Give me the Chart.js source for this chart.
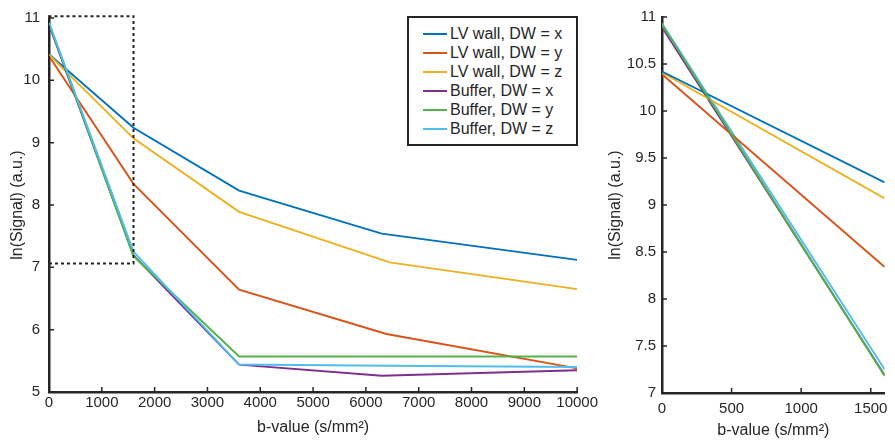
<!DOCTYPE html>
<html lang="en">
<head>
<meta charset="UTF-8">
<title>Signal decay vs b-value</title>
<script src="https://cdn.jsdelivr.net/npm/chart.js"></script>
<style>
  body { margin: 0; background: #fff; }
  #wrap { position: relative; width: 895px; height: 441px; overflow: hidden; }
  #mainChart { position: absolute; left: 0; top: 0; }
  #zoomChart { position: absolute; left: 600px; top: 0; }
  #legend {
    position: absolute; left: 407px; top: 16px;
    width: 171px; height: 130px; box-sizing: border-box;
    border: 2px solid #262626; background: #fff;
    padding: 7px 0 0 14px;
    font: 16px "Liberation Sans", Arial, sans-serif; color: #262626;
  }
  .row { display: flex; align-items: center; height: 18.9px; white-space: nowrap; }
  .swatch { width: 24px; height: 2px; margin-right: 3px; }
</style>
</head>
<body>
<div id="wrap">
  <canvas id="mainChart" width="600" height="441"></canvas>
  <canvas id="zoomChart" width="295" height="441"></canvas>
  <div id="legend"></div>
</div>

<script>
// b-values per gradient direction (s/mm²)
const bX = [0, 1600, 3600, 6300, 10000];
const bY = [0, 1600, 3600, 6390, 10000];
const bZ = [0, 1600, 3600, 6450, 10000];

// ln(signal) for each series
const lvWallX = [10.42, 9.24, 8.23, 7.54, 7.12];
const lvWallY = [10.39, 8.34, 6.64, 5.93, 5.38];
const lvWallZ = [10.41, 9.07, 7.89, 7.08, 6.65];
const bufferX = [10.89, 7.19, 5.44, 5.26, 5.35];
const bufferY = [10.92, 7.18, 5.57, 5.57, 5.57];
const bufferZ = [10.93, 7.25, 5.44, 5.42, 5.40];

const seriesLabels = ['LV wall, DW = x', 'LV wall, DW = y', 'LV wall, DW = z',
                      'Buffer, DW = x', 'Buffer, DW = y', 'Buffer, DW = z'];
const seriesColors = ['#0072BD', '#D95319', '#EDB120', '#7E2F8E', '#55B248', '#4DBEEE'];
const seriesB = [bX, bY, bZ, bX, bY, bZ];
const seriesValues = [lvWallX, lvWallY, lvWallZ, bufferX, bufferY, bufferZ];

// stacking: higher number is drawn lower
const mainOrder = [6, 5, 4, 3, 2, 1];
const zoomOrder = [2, 4, 3, 6, 1, 5];

// dotted box marking the zoomed region
const zoomBoxB = [0, 1600, 1600, 0, 0];
const zoomBoxSignal = [7.06, 7.06, 11.03, 11.03, 7.06];

// tick values
const mainXTicks = [0, 1000, 2000, 3000, 4000, 5000, 6000, 7000, 8000, 9000, 10000];
const mainYTicks = [5, 6, 7, 8, 9, 10, 11];
const zoomXTicks = [0, 500, 1000, 1500];
const zoomYTicks = [7, 7.5, 8, 8.5, 9, 9.5, 10, 10.5, 11];

const ink = '#262626';
Chart.defaults.font.family = '"Liberation Sans", Arial, sans-serif';
Chart.defaults.font.size = 15;
Chart.defaults.color = ink;

function toPoints(xs, ys) {
  return xs.map((x, i) => ({ x: x, y: ys[i] }));
}

function seriesDatasets(order) {
  return seriesLabels.map((label, i) => ({
    label: label,
    data: toPoints(seriesB[i], seriesValues[i]),
    borderColor: seriesColors[i],
    borderWidth: 1.9,
    pointRadius: 0,
    tension: 0,
    order: order[i]
  }));
}

// MATLAB-style ticks pointing into the plot area
const inwardTicks = {
  id: 'inwardTicks',
  afterDraw(chart) {
    const { ctx, chartArea, scales } = chart;
    ctx.save();
    ctx.strokeStyle = ink;
    ctx.lineWidth = 1.5;
    ctx.beginPath();
    scales.x.ticks.forEach(t => {
      const px = scales.x.getPixelForValue(t.value);
      ctx.moveTo(px, chartArea.bottom);
      ctx.lineTo(px, chartArea.bottom - 5);
    });
    scales.y.ticks.forEach(t => {
      const py = scales.y.getPixelForValue(t.value);
      ctx.moveTo(chartArea.left, py);
      ctx.lineTo(chartArea.left + 5, py);
    });
    ctx.stroke();
    ctx.restore();
  }
};

function axisOptions(opts) {
  return {
    x: {
      type: 'linear',
      min: opts.xTicks[0],
      max: opts.xMax,
      afterBuildTicks: s => { s.ticks = opts.xTicks.map(v => ({ value: v })); },
      afterFit: s => { s.height = opts.xHeight; },
      ticks: { padding: opts.xPad, callback: v => String(v), maxRotation: 0, autoSkip: false },
      grid: { display: true, drawOnChartArea: false, drawTicks: false },
      border: { color: ink, width: 2.5 },
      title: { display: true, text: 'b-value (s/mm²)', font: { size: 16 }, padding: { top: 0, bottom: opts.xTitlePad } }
    },
    y: {
      type: 'linear',
      min: opts.yTicks[0],
      max: opts.yTicks[opts.yTicks.length - 1],
      afterBuildTicks: s => { s.ticks = opts.yTicks.map(v => ({ value: v })); },
      afterFit: s => { s.width = opts.yWidth; },
      ticks: { padding: opts.yPad, callback: v => String(v), autoSkip: false },
      grid: { display: true, drawOnChartArea: false, drawTicks: false },
      border: { color: ink, width: 2.5 },
      title: { display: true, text: 'ln(Signal) (a.u.)', font: { size: 16 }, padding: { top: opts.yTitlePad, bottom: 0 } }
    }
  };
}

const mainDatasets = seriesDatasets(mainOrder);
mainDatasets.push({
  label: 'zoom region',
  data: toPoints(zoomBoxB, zoomBoxSignal),
  borderColor: '#222',
  borderWidth: 2,
  borderDash: [3, 3],
  pointRadius: 0,
  clip: false,
  order: 0
});

new Chart(document.getElementById('mainChart'), {
  type: 'line',
  data: { datasets: mainDatasets },
  options: {
    responsive: false,
    animation: false,
    layout: { padding: { top: 12, right: 15, left: 0, bottom: 0 } },
    plugins: { legend: { display: false }, tooltip: { enabled: false } },
    scales: axisOptions({
      xTicks: mainXTicks, xMax: 10000, yTicks: mainYTicks,
      xHeight: 49, yWidth: 49, xPad: 2, yPad: 9, xTitlePad: 4, yTitlePad: 8
    })
  },
  plugins: [inwardTicks]
});

new Chart(document.getElementById('zoomChart'), {
  type: 'line',
  data: { datasets: seriesDatasets(zoomOrder) },
  options: {
    responsive: false,
    animation: false,
    layout: { padding: { top: 17, right: 9, left: 0, bottom: 0 } },
    plugins: { legend: { display: false }, tooltip: { enabled: false } },
    scales: axisOptions({
      xTicks: zoomXTicks, xMax: 1600, yTicks: zoomYTicks,
      xHeight: 48, yWidth: 62, xPad: 7, yPad: 6, xTitlePad: 1, yTitlePad: 6
    })
  },
  plugins: [inwardTicks]
});

// legend box
const legend = document.getElementById('legend');
seriesLabels.forEach((label, i) => {
  const row = document.createElement('div');
  row.className = 'row';
  row.innerHTML = '<span class="swatch" style="background:' + seriesColors[i] + '"></span>' + label;
  legend.appendChild(row);
});
</script>
</body>
</html>
